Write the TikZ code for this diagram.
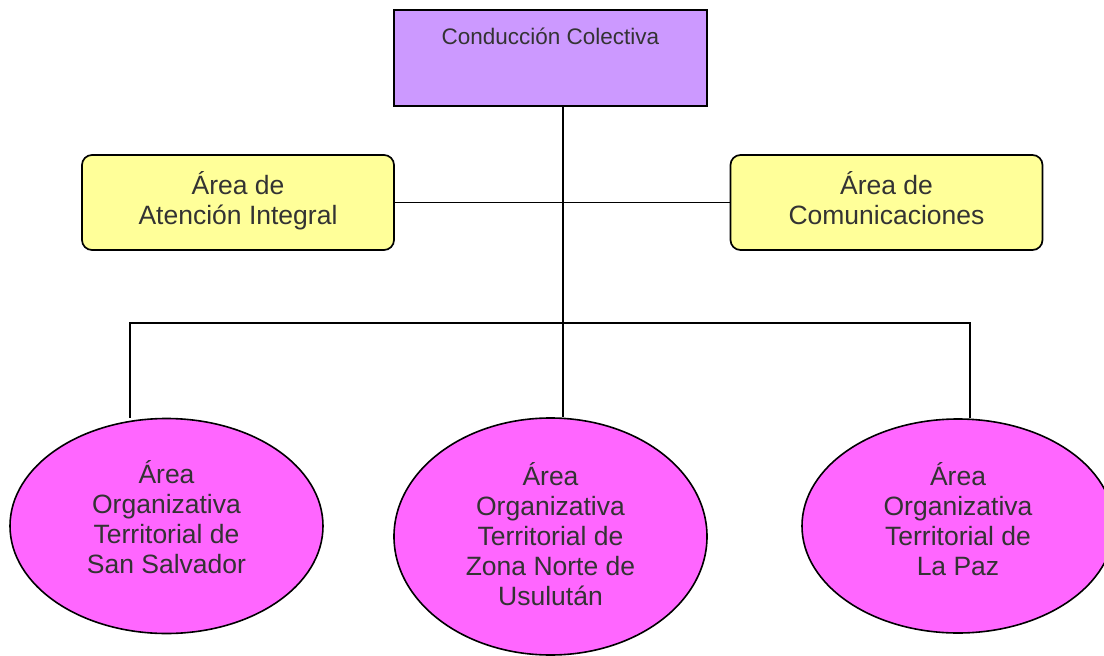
\documentclass[tikz,border=0pt]{standalone}
\usepackage{fontspec}
\setmainfont{Liberation Sans}
\usetikzlibrary{shapes.geometric}
\definecolor{topfill}{HTML}{CC99FF}
\definecolor{areafill}{HTML}{FFFF99}
\definecolor{ellfill}{HTML}{FF66FF}
\definecolor{txt}{HTML}{333333}
\tikzset{
  topbox/.style={draw=black, line width=1.7pt, fill=topfill, rectangle, minimum width=313pt, minimum height=96pt, inner sep=0pt},
  areabox/.style={draw=black, line width=1.7pt, fill=areafill, rectangle, rounded corners=10pt, minimum width=312pt, minimum height=95pt, inner sep=0pt},
  terrell/.style={draw=black, line width=1.6pt, fill=ellfill, ellipse, inner sep=0pt},
  lbl/.style={text=txt, align=center, inner sep=0pt, font=\fontsize{26.5}{30}\selectfont},
  toplbl/.style={text=txt, align=center, inner sep=0pt, font=\fontsize{22.5}{26}\selectfont},
  conn/.style={draw=black, line width=1.6pt}
}
\begin{document}
\begin{tikzpicture}[x=1pt,y=-1pt]
\useasboundingbox (0,0) rectangle (1104,656);
\coordinate (busL) at (130,323);
\coordinate (busR) at (970,323);
\coordinate (busC) at (563,323);

\node[topbox] (top) at (550.5,58) {};
\node[toplbl] (toptxt) at (550.5,36.5) {Conducción Colectiva};

\node[areabox] (atencion) at (238,202.5) {};
\node[lbl] (atenciontxt) at (238,201) {Área de\\Atención Integral};
\node[areabox] (comun) at (886.5,202.5) {};
\node[lbl] (comuntxt) at (886.5,201) {Área de\\Comunicaciones\vphantom{g}};

\node[terrell, minimum width=313pt, minimum height=215pt] (ss) at (166.5,526) {};
\node[lbl] (sstxt) at (166.5,517.5) {Área\\Organizativa\\Territorial de\\San Salvador};
\node[terrell, minimum width=313pt, minimum height=237pt] (zn) at (550.5,536.5) {};
\node[lbl] (zntxt) at (550.5,534.5) {Área\\Organizativa\\Territorial de\\Zona Norte de\\Usulután};
\node[terrell, minimum width=312pt, minimum height=214pt] (lp) at (958,526) {};
\node[lbl] (lptxt) at (958,519.5) {Área\\Organizativa\\Territorial de\\La Paz};

\draw[conn] (atencion.east) -- (comun.west);
\draw[conn] (top.south -| busC) -- (zn.north -| busC);
\draw[conn] (ss.north -| busL) -- (busL) -- (busR) -- (lp.north -| busR);
\end{tikzpicture}
\end{document}
